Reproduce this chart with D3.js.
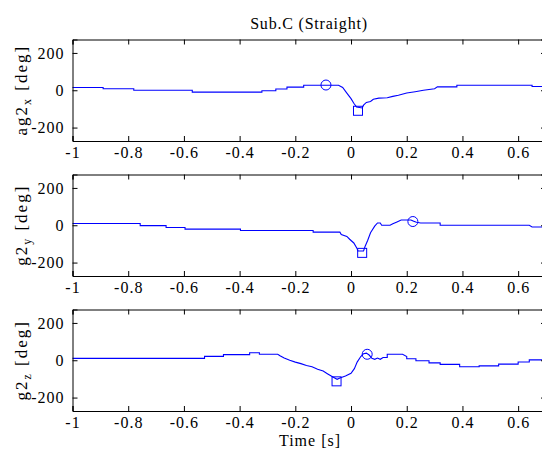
<!DOCTYPE html>
<html>
<head>
<meta charset="utf-8">
<script src="https://cdn.jsdelivr.net/npm/d3@7"></script>
<style>
  body { margin: 0; background: #fff; }
  svg { display: block; }
  svg text { font-family: "Liberation Serif", "Times New Roman", Times, serif; fill: #000; }
</style>
</head>
<body>
<div id="chart"></div>
<script>
const chartTitle = "Sub.C (Straight)";
const xLabel = "Time [s]";
const xTicks = [-1, -0.8, -0.6, -0.4, -0.2, 0, 0.2, 0.4, 0.6];
const yTicks = [-200, 0, 200];
const panelNames = ["ag2", "g2", "g2"];
const panelSubs = ["x", "y", "z"];

// step-like traces, [time, deg]
const ag2x = [[-1, 15], [-0.89, 15], [-0.89, 8], [-0.78, 8], [-0.78, 0], [-0.57, 0], [-0.57, -10],
  [-0.32, -10], [-0.32, -3], [-0.27, -3], [-0.27, 7], [-0.23, 7], [-0.23, 17], [-0.17, 17], [-0.17, 27],
  [-0.045, 27], [-0.03, 15], [-0.015, -15], [0, -45], [0.01, -70], [0.02, -90], [0.04, -95],
  [0.045, -80], [0.055, -65], [0.07, -60], [0.08, -48], [0.1, -42], [0.13, -40], [0.15, -33],
  [0.17, -27], [0.2, -15], [0.23, -8], [0.26, 0], [0.3, 8], [0.31, 18], [0.38, 18], [0.38, 27],
  [0.65, 27], [0.65, 20], [0.7, 20]];
const g2y = [[-1, 9], [-0.757, 9], [-0.757, -2], [-0.664, -2], [-0.664, -12], [-0.596, -12],
  [-0.596, -21], [-0.397, -21], [-0.397, -28], [-0.136, -28], [-0.136, -37], [-0.04, -37],
  [-0.035, -50], [-0.015, -60], [-0.005, -75], [0.01, -95], [0.02, -120], [0.025, -138],
  [0.045, -138], [0.05, -115], [0.06, -80], [0.07, -40], [0.085, -5], [0.095, 12], [0.105, 12],
  [0.11, 0], [0.14, 0], [0.15, 8], [0.165, 18], [0.18, 28], [0.215, 28], [0.225, 22], [0.235, 16],
  [0.25, 12], [0.32, 12], [0.32, 0], [0.64, 0], [0.65, -9], [0.7, -9]];
const g2z = [[-1, 10], [-0.526, 10], [-0.526, 21], [-0.458, 21], [-0.458, 30], [-0.364, 30],
  [-0.364, 40], [-0.329, 40], [-0.329, 32], [-0.263, 32], [-0.255, 24], [-0.24, 12], [-0.22, 0],
  [-0.2, -10], [-0.18, -18], [-0.16, -28], [-0.14, -35], [-0.12, -48], [-0.1, -58], [-0.085, -72],
  [-0.065, -90], [-0.05, -102], [-0.04, -95], [-0.02, -85], [0, -70], [0.012, -45], [0.022, -10],
  [0.035, 20], [0.045, 35], [0.055, 38], [0.065, 28], [0.075, 10], [0.085, 5], [0.095, 12],
  [0.105, 5], [0.115, 15], [0.13, 15], [0.13, 32], [0.185, 32], [0.2, 20], [0.2, 8], [0.233, 8],
  [0.233, -3], [0.28, -3], [0.28, -14], [0.32, -14], [0.32, -22], [0.39, -22], [0.39, -35],
  [0.46, -35], [0.46, -30], [0.53, -30], [0.53, -21], [0.6, -21], [0.6, -9], [0.64, -9], [0.64, 2],
  [0.7, 2]];
const circleMarks = [[-0.09, 28], [0.222, 20], [0.058, 32]];
const squareMarks = [[0.025, -110], [0.04, -148], [-0.052, -113]];

const series = [ag2x, g2y, g2z];

const width = 542, height = 459;
const left = 72.5, right = 546;
const panelTops = [39.5, 174.5, 309.5];
const panelH = 101.5;

const svg = d3.select("#chart").append("svg")
  .attr("width", width).attr("height", height);

const x = d3.scaleLinear().domain([-1, 0.7]).range([left, right]);

svg.append("text")
  .attr("x", 309).attr("y", 29)
  .attr("text-anchor", "middle").style("font-size", "16px").style("letter-spacing", "0.8px")
  .text(chartTitle);

series.forEach((data, i) => {
  const top = panelTops[i];
  const y = d3.scaleLinear().domain([-272, 272]).range([top + panelH, top]);
  const g = svg.append("g");

  // data line
  const line = d3.line().x(d => x(d[0])).y(d => y(d[1]));
  g.append("path").datum(data)
    .attr("d", line)
    .attr("fill", "none").attr("stroke", "#0000ff").attr("stroke-width", 1.1);

  // markers
  const c = circleMarks[i], s = squareMarks[i];
  g.append("circle").attr("cx", x(c[0])).attr("cy", y(c[1])).attr("r", 5)
    .attr("fill", "none").attr("stroke", "#0000ff").attr("stroke-width", 1);
  g.append("rect").attr("x", x(s[0]) - 4.5).attr("y", y(s[1]) - 4.5)
    .attr("width", 9).attr("height", 9)
    .attr("fill", "none").attr("stroke", "#0000ff").attr("stroke-width", 1);

  // axes, ticks pointing inward
  const fmt = d => d3.format("")(d).replace("−", "-");
  const xb = g.append("g").attr("transform", `translate(0,${top + panelH})`)
    .call(d3.axisBottom(x).tickValues(xTicks).tickSize(-5).tickPadding(6).tickFormat(fmt));
  const xt = g.append("g").attr("transform", `translate(0,${top})`)
    .call(d3.axisTop(x).tickValues(xTicks).tickSize(-5).tickFormat(""));
  const yl = g.append("g").attr("transform", `translate(${left},0)`)
    .call(d3.axisLeft(y).tickValues(yTicks).tickSize(-5).tickPadding(8).tickFormat(fmt));
  const yr = g.append("g").attr("transform", `translate(${right},0)`)
    .call(d3.axisRight(y).tickValues(yTicks).tickSize(-5).tickFormat(""));
  [xb, xt, yl, yr].forEach(a => {
    a.attr("font-family", null);
    a.selectAll("path").attr("stroke", "#000");
    a.selectAll("line").attr("stroke", "#000");
    a.selectAll("text").style("font-size", "16px").style("letter-spacing", "1px");
  });

  // y label
  const lab = g.append("text")
    .attr("transform", `translate(27,${top + panelH / 2}) rotate(-90)`)
    .attr("text-anchor", "middle").style("font-size", "17px").style("letter-spacing", "2px");
  lab.append("tspan").text(panelNames[i]);
  lab.append("tspan").attr("dy", 4).style("font-size", "12px").text(panelSubs[i]);
  lab.append("tspan").attr("dy", -4).text(" [deg]");
});

svg.append("text")
  .attr("x", 310).attr("y", 446)
  .attr("text-anchor", "middle").style("font-size", "16px").style("letter-spacing", "1px")
  .text(xLabel);
</script>
</body>
</html>
